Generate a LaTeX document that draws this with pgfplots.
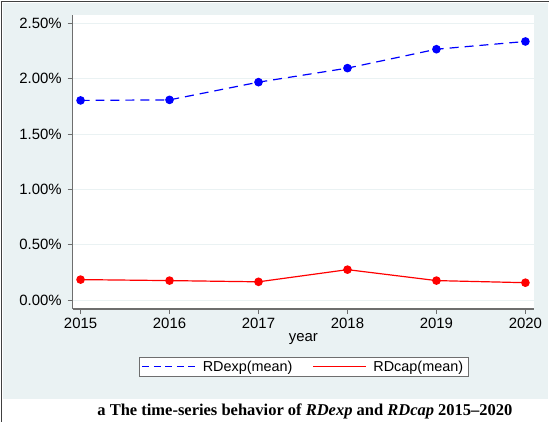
\documentclass[border=0pt]{standalone}
\usepackage{pgfplots}
\pgfplotsset{compat=1.18}
\usepackage{fontspec}
\setmainfont{Liberation Sans}
\newfontfamily\capfont{Liberation Serif}
\definecolor{bgc}{RGB}{234,242,243}
\definecolor{axc}{RGB}{110,110,110}
\definecolor{gridc}{RGB}{234,242,243}
\begin{document}
\begin{tikzpicture}[x=1bp,y=1bp]
\fill[white] (0,0) rectangle (550,422);
\fill[bgc] (2,23) rectangle (549,420);
\draw[black!75, line width=1.5bp] (0.75,0) -- (0.75,422);
\draw[black!75, line width=1.5bp] (0,421.25) -- (550,421.25);
\begin{axis}[
  at={(72bp,113bp)}, anchor=south west,
  width=463bp, height=295bp, scale only axis,
  xmin=2014.91, xmax=2020.1,
  ymin=-0.08, ymax=2.58,
  axis background/.style={fill=white},
  axis x line*=bottom, axis y line*=left,
  axis line style={axc, line width=1.2bp},
  every tick/.style={axc, line width=1bp},
  tick align=outside, major tick length=5bp,
  xtick={2015,2016,2017,2018,2019,2020},
  ytick={0,0.5,1,1.5,2,2.5},
  ymajorgrids, grid style={gridc, line width=1bp},
  /pgf/number format/assume math mode=true,
  tick label style={font=\fontsize{15}{18}\selectfont},
  xticklabel style={/pgf/number format/1000 sep={}, yshift=-1bp},
  yticklabel style={xshift=-2.5bp},
  yticklabel={\pgfmathprintnumber[fixed,fixed zerofill,precision=2]{\tick}\%},
  xlabel={year},
  xlabel style={at={(axis description cs:0.5,-0.1017)}, anchor=center, font=\fontsize{15}{18}\selectfont},
  legend columns=2,
  legend style={at={(0.5,-0.1966)}, anchor=center, draw=axc, fill=white,
    font=\fontsize{14.5}{17}\selectfont, inner xsep=3bp, inner ysep=2bp,
    /tikz/every odd column/.append style={column sep=5bp},
    /tikz/every even column/.append style={column sep=18bp}},
  legend image code/.code={\draw[#1] (0bp,0bp) -- (53bp,0bp);},
]
\addplot[blue, line width=1.2bp, dash pattern=on 9bp off 6bp, mark=*, mark size=3.7bp, mark options={solid, fill=blue},
  legend image post style={dash pattern=on 7bp off 4.5bp}]
  coordinates {(2015,1.805) (2016,1.81) (2017,1.97) (2018,2.097) (2019,2.268) (2020,2.338)};
\addlegendentry{RDexp(mean)}
\addplot[red, line width=1.2bp, mark=*, mark size=3.7bp, mark options={solid, fill=red}]
  coordinates {(2015,0.185) (2016,0.176) (2017,0.165) (2018,0.275) (2019,0.176) (2020,0.157)};
\addlegendentry{RDcap(mean)}
\end{axis}
\node[font=\capfont\fontsize{16.6}{19}\selectfont\bfseries] at (305,10) {a The time-series behavior of \textit{RDexp} and \textit{RDcap} 2015–2020};
\end{tikzpicture}
\end{document}
